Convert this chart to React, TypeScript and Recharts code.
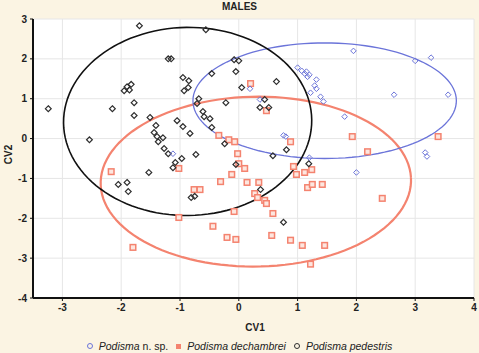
import React from 'react';
import { ScatterChart, Scatter, XAxis, YAxis, CartesianGrid } from 'recharts';

// CV1, CV2 scores per species
const nspPoints: [number, number][] = [
  [1.95, 2.2], [3.0, 1.95], [3.27, 2.03], [1.0, 1.78], [1.07, 1.7], [1.12, 1.63], [1.15, 1.68],
  [1.17, 1.55], [1.2, 1.6], [1.32, 1.48], [1.29, 1.33], [1.32, 1.25], [1.22, 1.15], [1.39, 1.05],
  [1.44, 0.93], [2.64, 1.1], [3.56, 1.1], [1.8, 0.55], [0.19, 1.25], [0.36, 0.98], [0.76, 0.08],
  [0.8, 0.05], [1.2, -0.48], [2.0, -0.85], [3.17, -0.35], [3.2, -0.45], [-1.12, -0.38],
];

const dechambreiPoints: [number, number][] = [
  [0.2, 1.38], [0.47, 0.7], [-0.34, 0.08], [-0.17, -0.03], [-0.07, -0.08], [-0.02, -0.38], [0, -0.63],
  [0.1, -0.75], [-0.12, -0.9], [-0.31, -1.08], [0.14, -1.1], [0.34, -1.1], [0.27, -1.38], [0.32, -1.48],
  [0.44, -1.55], [0.47, -1.63], [0.58, -1.88], [-0.08, -1.83], [-1.02, -0.75], [-2.17, -0.83],
  [-0.76, -1.28], [-0.66, -1.28], [-1.02, -1.98], [-0.44, -2.2], [0.88, -0.08], [0.93, -0.7],
  [0.98, -0.9], [1.12, -0.85], [1.24, -0.78], [1.17, -1.23], [1.25, -1.15], [1.42, -1.15],
  [1.93, 0.05], [2.19, -0.33], [2.44, -1.5], [3.39, 0.05], [-1.8, -2.73], [-0.2, -2.48],
  [-0.05, -2.53], [0.56, -2.43], [0.88, -2.55], [1.08, -2.68], [1.46, -2.68], [1.22, -3.15],
];

const pedestrisPoints: [number, number][] = [
  [-1.69, 2.83], [-0.56, 2.73], [-1.2, 2.0], [-1.15, 2.0], [-0.08, 1.98], [0, 1.95], [-0.46, 1.63],
  [-0.05, 1.68], [-0.95, 1.53], [-0.85, 1.45], [-0.93, 1.2], [-0.86, 1.28], [0.64, 1.43], [0.05, 1.28],
  [-1.95, 1.2], [-1.9, 1.3], [-1.83, 1.36], [-1.86, 1.22], [-1.78, 0.9], [-0.68, 1.0], [-0.71, 0.88],
  [-0.22, 0.9], [0.44, 0.98], [0.51, 0.78], [0.36, 0.78], [-3.24, 0.75], [-2.15, 0.75], [-1.78, 0.58],
  [-1.51, 0.53], [-1.05, 0.45], [-0.95, 0.3], [-0.83, 0.13], [-0.61, 0.68], [-0.59, 0.55],
  [-0.49, 0.5], [-0.46, 0.28], [-1.41, 0.33], [-1.44, 0.15], [-1.39, 0.05], [-1.29, 0.02],
  [-1.37, -0.08], [-1.27, -0.25], [-1.2, -0.38], [-1.08, -0.6], [-1.12, -0.73], [-0.97, -0.5],
  [-0.73, -0.4], [-0.24, -0.13], [-2.54, -0.03], [-0.05, -0.65], [0.58, -0.43], [0.81, -0.28],
  [1.19, -0.63], [-1.53, -0.85], [-2.05, -1.15], [-1.9, -1.1], [-1.88, -1.33], [-0.81, -1.48],
  [-0.75, -1.45], [0.37, -1.28], [0.76, -2.1],
];

// confidence ellipses: center (CV1, CV2), radii, small tilt (radians)
const nspEllipse = { cx: 1.46, cy: 0.95, rx: 2.24, ry: 1.45, tilt: 0 };
const dechambreiEllipse = { cx: 0.29, cy: -1.08, rx: 2.64, ry: 2.13, tilt: 0.04 };
const pedestrisEllipse = { cx: -0.87, cy: 0.43, rx: 2.11, ry: 2.36, tilt: -0.04 };

const xTicks = [-3, -2, -1, 0, 1, 2, 3, 4];
const yTicks = [-4, -3, -2, -1, 0, 1, 2, 3];
const xDomain: [number, number] = [-3.5, 4];
const yDomain: [number, number] = [-4, 3];

const xMinor: number[] = [];
for (let i = -17; i <= 20; i++) xMinor.push(Math.round(i * 0.2 * 100) / 100);
const yMinor: number[] = [];
for (let i = -12; i <= 9; i++) yMinor.push(Math.round((i / 3) * 1000) / 1000);

const COL_NSP = '#6B74D9';
const COL_DEC = '#F4836F';
const COL_PED = '#2E2E2E';

const toObjs = (pts: [number, number][]) => pts.map(([x, y]) => ({ x, y }));

const ellipsePath = (e: { cx: number; cy: number; rx: number; ry: number; tilt: number }) => {
  const out: { x: number; y: number }[] = [];
  const n = 120;
  const c = Math.cos(e.tilt);
  const s = Math.sin(e.tilt);
  for (let i = 0; i <= n; i++) {
    const t = (i / n) * Math.PI * 2;
    const u = e.rx * Math.cos(t);
    const v = e.ry * Math.sin(t);
    out.push({ x: e.cx + u * c - v * s, y: e.cy + u * s + v * c });
  }
  return out;
};

const Diamond = (color: string, r: number, sw: number) => (props: any) => {
  const { cx, cy } = props;
  if (cx == null || cy == null) return <g />;
  return (
    <path
      d={`M${cx},${cy - r}L${cx + r},${cy}L${cx},${cy + r}L${cx - r},${cy}Z`}
      fill="none"
      stroke={color}
      strokeWidth={sw}
    />
  );
};

const Square = (color: string, h: number, sw: number) => (props: any) => {
  const { cx, cy } = props;
  if (cx == null || cy == null) return <g />;
  return (
    <rect x={cx - h} y={cy - h} width={2 * h} height={2 * h} fill="#FDE6DF" stroke={color} strokeWidth={sw} />
  );
};

const Nothing = () => <g />;

const FONT = '"Liberation Sans", Arial, sans-serif';

export default function App() {
  return (
    <div
      style={{
        position: 'absolute',
        left: 0,
        top: 0,
        width: 479,
        height: 353,
        background: '#FBF4E3',
        fontFamily: FONT,
        overflow: 'hidden',
      }}
    >
      <div
        style={{
          position: 'absolute',
          top: 1,
          left: 0,
          width: 479,
          textAlign: 'center',
          fontSize: 10,
          fontWeight: 'bold',
          color: '#222',
        }}
      >
        MALES
      </div>
      <div
        style={{
          position: 'absolute',
          left: -7,
          top: 149,
          width: 30,
          textAlign: 'center',
          fontSize: 10,
          fontWeight: 'bold',
          color: '#222',
          transform: 'rotate(-90deg)',
        }}
      >
        CV2
      </div>
      <div
        style={{
          position: 'absolute',
          left: 225,
          top: 322,
          width: 60,
          textAlign: 'center',
          fontSize: 10,
          fontWeight: 'bold',
          color: '#222',
        }}
      >
        CV1
      </div>
      <div
        style={{
          position: 'absolute',
          left: 0,
          top: 340,
          width: 479,
          display: 'flex',
          justifyContent: 'center',
          alignItems: 'center',
          fontSize: 10.5,
          fontStyle: 'italic',
          color: '#222',
          whiteSpace: 'nowrap',
        }}
      >
        <span style={{ display: 'inline-block', width: 4, height: 4, borderRadius: 3, border: `1px solid ${COL_NSP}`, marginRight: 6 }} />
        <span>Podisma</span>
        <span style={{ fontStyle: 'normal', marginLeft: 3 }}>n. sp.</span>
        <span style={{ display: 'inline-block', width: 5, height: 5, background: COL_DEC, marginLeft: 8, marginRight: 6 }} />
        <span>Podisma dechambrei</span>
        <span style={{ display: 'inline-block', width: 4, height: 4, borderRadius: 3, border: `1px solid ${COL_PED}`, marginLeft: 8, marginRight: 6 }} />
        <span>Podisma pedestris</span>
      </div>
      <div style={{ position: 'absolute', left: 0, top: 0 }}>
        <ScatterChart width={479} height={353} margin={{ top: 19, right: 5, bottom: 35, left: 0 }}>
          <CartesianGrid xAxisId="x" yAxisId="y" stroke="#E6E6E6" strokeWidth={1} fill="#ffffff" />
          <XAxis
            xAxisId="x"
            type="number"
            dataKey="x"
            domain={xDomain}
            ticks={xTicks}
            allowDataOverflow
            orientation="bottom"
            height={20}
            tickSize={3}
            tickMargin={3}
            axisLine={{ stroke: '#111', strokeWidth: 2 }}
            tickLine={{ stroke: '#111' }}
            tick={{ fontSize: 10, fontWeight: 'bold', fill: '#222', fontFamily: FONT }}
          />
          <XAxis
            xAxisId="top"
            type="number"
            dataKey="x"
            domain={xDomain}
            ticks={xMinor}
            allowDataOverflow
            orientation="top"
            height={0}
            mirror
            tickSize={3}
            tick={false}
            axisLine={{ stroke: '#111', strokeWidth: 2 }}
            tickLine={{ stroke: '#111' }}
          />
          <YAxis
            yAxisId="y"
            type="number"
            dataKey="y"
            domain={yDomain}
            ticks={yTicks}
            allowDataOverflow
            width={33}
            tickSize={3}
            tickMargin={3}
            axisLine={{ stroke: '#111', strokeWidth: 2 }}
            tickLine={{ stroke: '#111' }}
            tick={{ fontSize: 10, fontWeight: 'bold', fill: '#222', fontFamily: FONT }}
          />
          <YAxis
            yAxisId="right"
            type="number"
            dataKey="y"
            domain={yDomain}
            ticks={yMinor}
            allowDataOverflow
            orientation="right"
            width={0}
            mirror
            tickSize={3}
            tick={false}
            axisLine={{ stroke: '#111', strokeWidth: 2 }}
            tickLine={{ stroke: '#111' }}
          />
          <Scatter
            xAxisId="x"
            yAxisId="y"
            data={ellipsePath(dechambreiEllipse)}
            line={{ stroke: COL_DEC, strokeWidth: 2.2 }}
            lineType="joint"
            shape={Nothing}
            isAnimationActive={false}
          />
          <Scatter
            xAxisId="x"
            yAxisId="y"
            data={ellipsePath(nspEllipse)}
            line={{ stroke: COL_NSP, strokeWidth: 1.3 }}
            lineType="joint"
            shape={Nothing}
            isAnimationActive={false}
          />
          <Scatter
            xAxisId="x"
            yAxisId="y"
            data={ellipsePath(pedestrisEllipse)}
            line={{ stroke: '#111', strokeWidth: 1.6 }}
            lineType="joint"
            shape={Nothing}
            isAnimationActive={false}
          />
          <Scatter
            xAxisId="x"
            yAxisId="y"
            data={toObjs(dechambreiPoints)}
            shape={Square(COL_DEC, 2.8, 1.5)}
            isAnimationActive={false}
          />
          <Scatter
            xAxisId="x"
            yAxisId="y"
            data={toObjs(pedestrisPoints)}
            shape={Diamond(COL_PED, 2.9, 1.2)}
            isAnimationActive={false}
          />
          <Scatter
            xAxisId="x"
            yAxisId="y"
            data={toObjs(nspPoints)}
            shape={Diamond(COL_NSP, 2.8, 1)}
            isAnimationActive={false}
          />
        </ScatterChart>
      </div>
    </div>
  );
}
